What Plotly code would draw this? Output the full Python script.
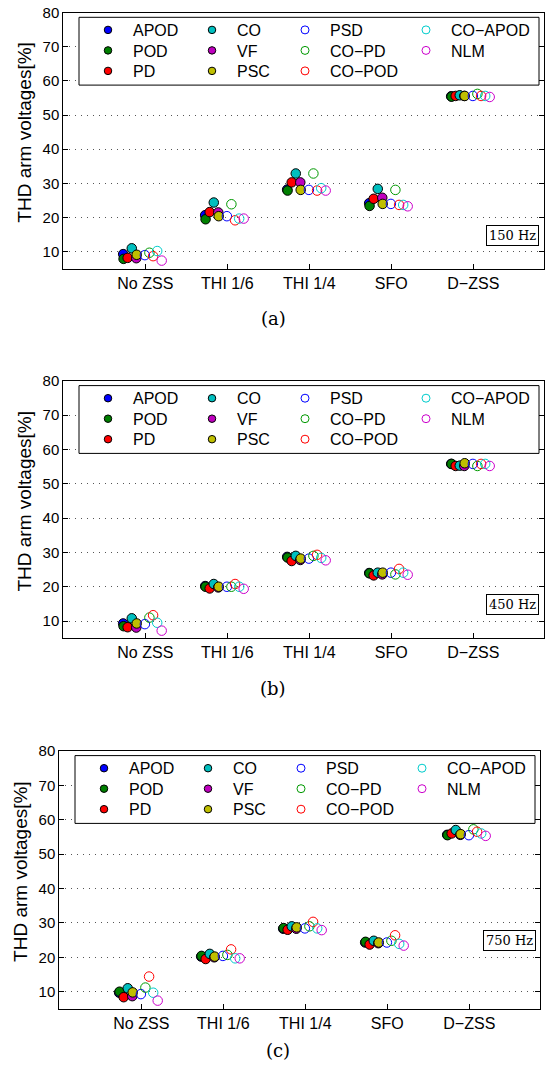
import plotly.graph_objects as go

W, H = 547, 1070

categories = ["No ZSS", "THI 1/6", "THI 1/4", "SFO", "D\u2212ZSS"]
methods = ["APOD", "POD", "PD", "CO", "VF", "PSC", "PSD", "CO\u2212PD", "CO\u2212POD", "CO\u2212APOD", "NLM"]
filled = [True, True, True, True, True, True, False, False, False, False, False]
colors = ["#0000ff", "#007f00", "#ff0000", "#00bfbf", "#bf00bf", "#bfbf00",
          "#0000ff", "#009900", "#ff0000", "#00cccc", "#cc00cc"]
offsets = [-0.27, -0.265, -0.215, -0.165, -0.11, -0.105, -0.005, 0.05, 0.095, 0.145, 0.2]

# THD values per panel, per method, per category
thd_150 = {
    "APOD": [9.3, 20.7, 28.2, 24.2, 55.5],
    "POD": [7.9, 19.5, 27.9, 23.4, 55.4],
    "PD": [8.2, 21.6, 30.3, 25.5, 55.6],
    "CO": [11.0, 24.4, 32.9, 28.4, 55.8],
    "VF": [8.1, 21.5, 30.3, 25.8, 55.6],
    "PSC": [9.1, 20.4, 28.1, 24.0, 55.6],
    "PSD": [9.0, 20.4, 28.1, 24.0, 55.6],
    "CO-PD": [9.7, 23.9, 32.9, 28.1, 56.2],
    "CO-POD": [8.7, 19.2, 27.9, 23.7, 55.6],
    "CO-APOD": [10.2, 19.7, 28.6, 23.7, 55.6],
    "NLM": [7.4, 19.7, 27.9, 23.3, 55.3],
}
thd_450 = {
    "APOD": [9.3, 20.2, 28.7, 24.0, 55.8],
    "POD": [8.5, 20.0, 28.5, 23.9, 55.8],
    "PD": [8.2, 19.5, 27.5, 23.3, 55.2],
    "CO": [10.8, 20.8, 29.0, 24.1, 55.3],
    "VF": [8.1, 19.8, 27.8, 23.6, 55.2],
    "PSC": [9.3, 20.0, 28.2, 24.1, 56.0],
    "PSD": [9.1, 20.0, 28.2, 24.1, 55.8],
    "CO-PD": [11.0, 20.0, 29.0, 23.6, 55.2],
    "CO-POD": [11.7, 20.8, 29.3, 25.2, 55.8],
    "CO-APOD": [9.5, 20.0, 28.4, 24.1, 55.8],
    "NLM": [7.2, 19.4, 27.7, 23.5, 55.2],
}
thd_750 = {
    "APOD": [9.7, 20.2, 28.3, 24.3, 55.6],
    "POD": [10.0, 20.4, 28.5, 24.5, 55.5],
    "PD": [8.4, 19.5, 28.0, 23.7, 56.0],
    "CO": [11.0, 21.0, 29.0, 24.8, 57.0],
    "VF": [8.7, 20.0, 28.3, 24.1, 55.6],
    "PSC": [9.8, 20.2, 28.7, 24.3, 55.8],
    "PSD": [9.3, 20.4, 28.4, 24.3, 55.5],
    "CO-PD": [11.2, 20.7, 29.0, 24.8, 57.2],
    "CO-POD": [14.4, 22.3, 30.3, 26.4, 56.5],
    "CO-APOD": [9.7, 19.7, 28.4, 23.9, 56.0],
    "NLM": [7.4, 19.7, 27.9, 23.4, 55.3],
}
panels = [thd_150, thd_450, thd_750]
freq_labels = ["150 Hz", "450 Hz", "750 Hz"]
captions = ["(a)", "(b)", "(c)"]
yticks = [10, 20, 30, 40, 50, 60, 70, 80]

# layout geometry (pixels)
geo = [
    dict(left=63.3, right=544.0, top=12.6, bottom=268.8, cap=(273, 318), hz=(539, 235.3)),
    dict(left=63.3, right=544.0, top=380.9, bottom=638.2, cap=(273, 688), hz=(539, 604.7)),
    dict(left=59.3, right=540.0, top=750.9, bottom=1008.9, cap=(278, 1050), hz=(535.5, 940.0)),
]
PX_PER_CAT = 82.0
legend_cols_x = [110, 214, 307, 428]     # marker centres of the legend columns
legend_rows_dy = [17.4, 37.9, 58.4]     # row centres below the axes top
LEG_MARK_OFF = 27                        # marker centre offset inside a plotly legend

def px(x):
    return x / W

def py(y):
    return 1 - y / H

SANS = "Liberation Sans, Arial, sans-serif"
SERIF = "DejaVu Serif, Liberation Serif, serif"

fig = go.Figure()
shapes = []
annotations = []
layout = dict(width=W, height=H, margin=dict(l=0, r=0, t=0, b=0, autoexpand=False),
              paper_bgcolor="white", plot_bgcolor="white", showlegend=True)

for p, (data, g) in enumerate(zip(panels, geo)):
    xa = "x" if p == 0 else f"x{p+1}"
    ya = "y" if p == 0 else f"y{p+1}"
    xkey = "xaxis" if p == 0 else f"xaxis{p+1}"
    ykey = "yaxis" if p == 0 else f"yaxis{p+1}"
    xmax = (g["right"] - g["left"]) / PX_PER_CAT
    layout[xkey] = dict(domain=[px(g["left"]), px(g["right"])], range=[0, xmax], anchor=ya,
                        tickmode="array", tickvals=[1, 2, 3, 4, 5], ticktext=categories,
                        ticks="inside", ticklen=5, tickcolor="black", showgrid=False,
                        showline=True, linecolor="black", linewidth=1, mirror=True,
                        zeroline=False, tickfont=dict(family=SANS, size=16, color="black"))
    layout[ykey] = dict(domain=[py(g["bottom"]), py(g["top"])], range=[5, 80], anchor=xa,
                        tickmode="array", tickvals=yticks,
                        ticks="inside", ticklen=5, tickcolor="black",
                        showgrid=True, gridcolor="#555555", griddash="1px,5px", gridwidth=1,
                        showline=True, linecolor="black", linewidth=1, mirror="ticks",
                        zeroline=False, tickfont=dict(family=SANS, size=15, color="black"))
    dx = g["left"] - 63.3
    for m, name in enumerate(methods):
        key = name.replace("\u2212", "-")
        vals = data[key]
        xs = [i + 1 + offsets[m] for i in range(len(categories))]
        leg_idx = p * len(methods) + m
        leg = "legend" if leg_idx == 0 else f"legend{leg_idx+1}"
        if filled[m]:
            marker = dict(size=9.5, color=colors[m], line=dict(color="black", width=1), symbol="circle")
            lmarker = dict(size=7.5, color=colors[m], line=dict(color="black", width=1), symbol="circle")
        else:
            marker = dict(size=9.5, color=colors[m], symbol="circle-open", line=dict(width=1))
            lmarker = dict(size=8, color=colors[m], symbol="circle-open", line=dict(width=1))
        fig.add_trace(go.Scatter(x=xs, y=vals, mode="markers", name=name, marker=marker,
                                 xaxis=xa, yaxis=ya, showlegend=False, hoverinfo="skip"))
        # legend-only entry with the smaller legend symbol
        fig.add_trace(go.Scatter(x=[None], y=[None], mode="markers", name=name, marker=lmarker,
                                 xaxis=xa, yaxis=ya, legend=leg, showlegend=True, hoverinfo="skip"))
        col, row = m // 3, m % 3
        layout[leg] = dict(x=px(legend_cols_x[col] + dx - LEG_MARK_OFF), xanchor="left",
                           y=py(g["top"] + legend_rows_dy[row]), yanchor="middle",
                           bgcolor="rgba(0,0,0,0)", borderwidth=0, itemwidth=40,
                           font=dict(family=SANS, size=16, color="black"),
                           tracegroupgap=0, itemsizing="trace")
    # legend box (opaque, covers grid)
    shapes.append(dict(type="rect", xref="paper", yref="paper",
                       x0=px(79 + dx), x1=px(539 + dx), y0=py(g["top"] + 72.5), y1=py(g["top"] + 4.7),
                       line=dict(color="black", width=1), fillcolor="white", layer="above"))
    # y title
    annotations.append(dict(text="THD arm voltages[%]", textangle=-90, showarrow=False,
                            xref="paper", yref="paper", x=px(25 + dx), y=py((g["top"] + g["bottom"]) / 2 - 8),
                            xanchor="center", yanchor="middle",
                            font=dict(family=SANS, size=19, color="black")))
    # frequency box
    annotations.append(dict(text=freq_labels[p], showarrow=False, xref="paper", yref="paper",
                            x=px(g["hz"][0]), y=py(g["hz"][1]), xanchor="right", yanchor="middle",
                            font=dict(family=SERIF, size=13, color="black"),
                            bordercolor="black", borderwidth=1, borderpad=2, bgcolor="white"))
    # caption
    annotations.append(dict(text=captions[p], showarrow=False, xref="paper", yref="paper",
                            x=px(g["cap"][0]), y=py(g["cap"][1]), xanchor="center", yanchor="middle",
                            font=dict(family=SERIF, size=18, color="black")))

layout["shapes"] = shapes
layout["annotations"] = annotations
fig.update_layout(**layout)
fig.write_html("out.html", config={"displayModeBar": False},
               post_script="document.body.style.margin='0';")
